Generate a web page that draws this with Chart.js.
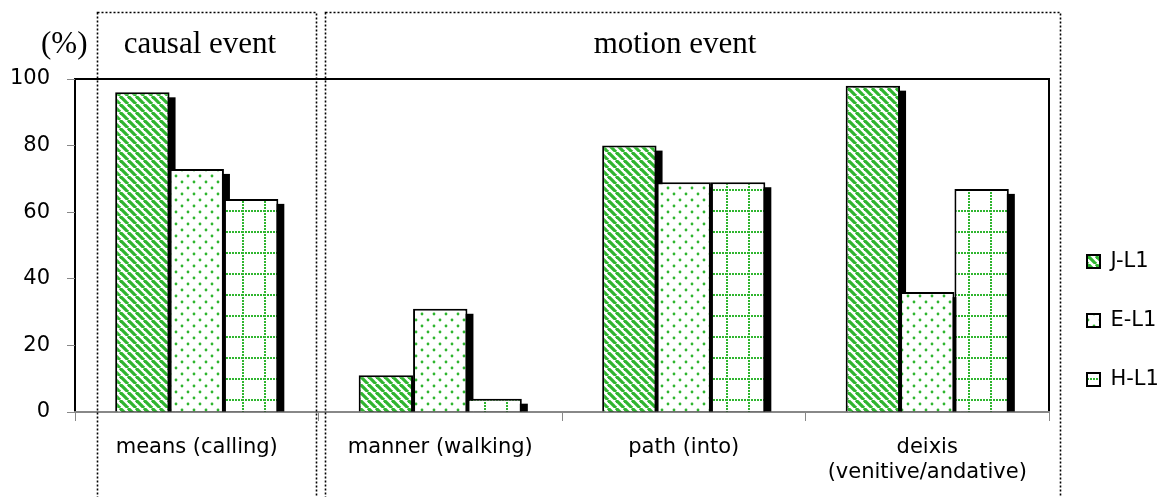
<!DOCTYPE html>
<html>
<head>
<meta charset="utf-8">
<script src="https://cdn.jsdelivr.net/npm/chart.js@4/dist/chart.umd.min.js"></script>
<style>
  html, body { margin: 0; padding: 0; background: #fff; }
  #wrap { position: relative; width: 1162px; height: 497px; }
</style>
</head>
<body>
<div id="wrap"><canvas id="chart"></canvas></div>
<script>
// data
const categories = ['means (calling)', 'manner (walking)', 'path (into)', ['deixis', '(venitive/andative)']];
const seriesNames = ['J-L1', 'E-L1', 'H-L1'];
const jL1 = [96, 11, 80, 98];
const eL1 = [73, 31, 69, 36];
const hL1 = [64, 4, 69, 67];
const yTicks = [0, 20, 40, 60, 80, 100];

const GREEN = '#2fb52f';
const SANS = '"DejaVu Sans", sans-serif';
const SERIF = '"Liberation Serif", "DejaVu Serif", serif';

// fill patterns
const makeTile = (w, h, draw) => {
    const c = document.createElement('canvas');
    c.width = w; c.height = h;
    const g = c.getContext('2d');
    g.fillStyle = '#fff';
    g.fillRect(0, 0, w, h);
    draw(g);
    return document.getElementById('chart').getContext('2d').createPattern(c, 'repeat');
};

const stripes = makeTile(8, 8, g => {
    g.strokeStyle = GREEN;
    g.lineWidth = 3.2;
    for (let k = -8; k <= 8; k += 8) {
        g.beginPath();
        g.moveTo(k, 0);
        g.lineTo(k + 8, 8);
        g.stroke();
    }
});

const dots = makeTile(12, 12, g => {
    g.fillStyle = GREEN;
    [[2, 2], [8, 8]].forEach(([x, y]) => {
        g.beginPath();
        g.arc(x, y, 1.4, 0, Math.PI * 2);
        g.fill();
    });
});

const grid = makeTile(22, 21, g => {
    g.fillStyle = GREEN;
    for (let x = 0; x < 22; x += 3) g.fillRect(x, 0, 2, 2);
    for (let y = 3; y < 21; y += 3) g.fillRect(0, y, 2, 2);
});

// black drop shadow behind each bar
const barShadow = {
    id: 'barShadow',
    beforeDatasetsDraw(chart) {
        const ctx = chart.ctx;
        ctx.save();
        ctx.fillStyle = '#000';
        chart.data.datasets.forEach((ds, i) => {
            const meta = chart.getDatasetMeta(i);
            meta.data.forEach(el => {
                const { x, y, base, width } = el.getProps(['x', 'y', 'base', 'width'], true);
                const drop = base - y < 6 ? 3 : 5;
                ctx.fillRect(x - width / 2 + 6, y + drop, width, base - y - drop);
            });
        });
        ctx.restore();
    }
};

// frame, dotted group boxes and header texts
const decorations = {
    id: 'decorations',
    beforeDraw(chart) {
        const { ctx, chartArea: a } = chart;
        ctx.save();
        ctx.strokeStyle = '#000';
        ctx.lineWidth = 2;
        ctx.beginPath();
        ctx.moveTo(a.left, a.bottom);
        ctx.lineTo(a.left, a.top);
        ctx.lineTo(a.right, a.top);
        ctx.lineTo(a.right, a.bottom);
        ctx.stroke();
        ctx.restore();
    },
    afterDraw(chart) {
        const ctx = chart.ctx;
        ctx.save();
        ctx.strokeStyle = '#000';
        ctx.lineWidth = 1.6;
        ctx.setLineDash([2, 2]);
        ctx.strokeRect(97.5, 12.5, 219, 520);
        ctx.strokeRect(325.5, 12.5, 735, 520);
        ctx.setLineDash([]);
        ctx.fillStyle = '#000';
        ctx.font = '31px ' + SERIF;
        ctx.textBaseline = 'alphabetic';
        ctx.textAlign = 'left';
        ctx.fillText('(%)', 41, 53);
        ctx.textAlign = 'center';
        ctx.fillText('causal event', 200, 53);
        ctx.fillText('motion event', 675, 53);
        ctx.restore();
    }
};

const makeSet = (label, data, fill) => ({
    label,
    data,
    backgroundColor: fill,
    borderColor: '#000',
    borderWidth: 2,
    borderSkipped: 'bottom',
    categoryPercentage: 0.67,
    barPercentage: 1.0
});

new Chart(document.getElementById('chart'), {
    type: 'bar',
    data: {
        labels: categories,
        datasets: [
            makeSet(seriesNames[0], jL1, stripes),
            makeSet(seriesNames[1], eL1, dots),
            makeSet(seriesNames[2], hL1, grid)
        ]
    },
    options: {
        responsive: true,
        maintainAspectRatio: false,
        animation: false,
        layout: { padding: { top: 79, left: 0, right: 0, bottom: 6 } },
        plugins: {
            tooltip: { enabled: false },
            legend: {
                position: 'right',
                align: 'start',
                maxWidth: 113,
                title: { display: true, text: ' ', font: { size: 10 }, padding: 61 },
                labels: {
                    color: '#000',
                    font: { family: SANS, size: 21 },
                    boxWidth: 13,
                    boxHeight: 13,
                    padding: 38
                }
            }
        },
        scales: {
            x: {
                grid: { display: true, drawOnChartArea: false, color: '#888', tickLength: 9, offset: true },
                border: { display: true, color: '#888', width: 2 },
                ticks: { color: '#000', font: { family: SANS, size: 21, lineHeight: 1.2 }, padding: 14, maxRotation: 0 },
                afterFit: s => { s.height = 497 - 6 - 412; }
            },
            y: {
                min: 0,
                max: 100,
                afterBuildTicks: s => { s.ticks = yTicks.map(v => ({ value: v })); },
                grid: { display: true, drawOnChartArea: false, color: '#888', tickLength: 8 },
                border: { display: false },
                ticks: { color: '#000', font: { family: SANS, size: 21 }, padding: 17 },
                afterFit: s => { s.width = 75; }
            }
        }
    },
    plugins: [barShadow, decorations]
});
</script>
</body>
</html>
